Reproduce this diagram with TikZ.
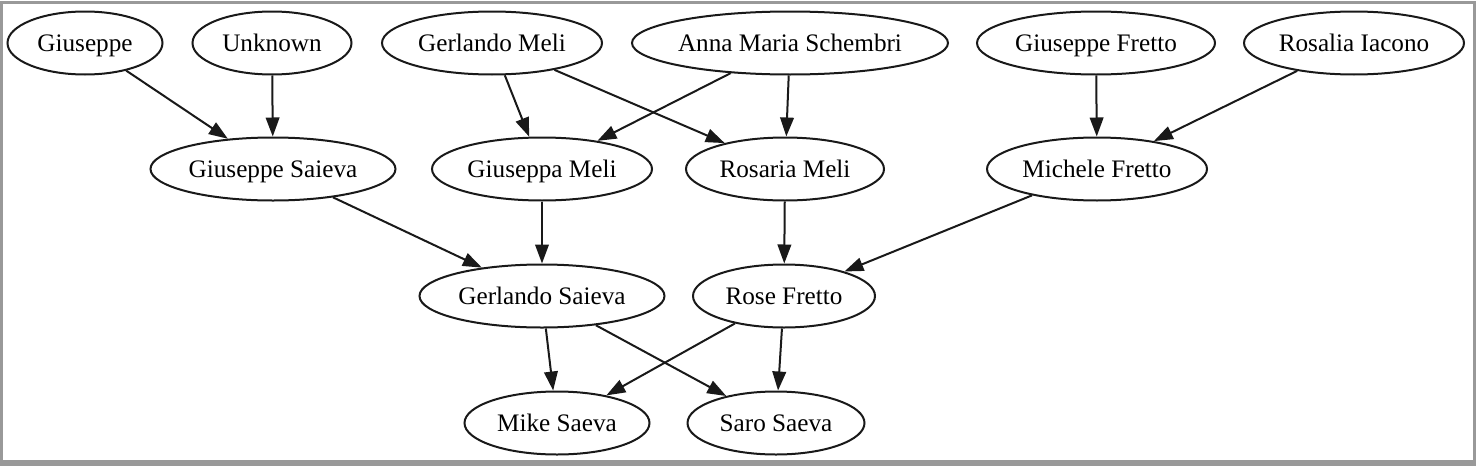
\documentclass[tikz,border=0pt]{standalone}
\usepackage{fontspec}
\setmainfont{Liberation Serif}
\usepackage{tikz}
\usetikzlibrary{arrows.meta,shapes.geometric}

\tikzset{
 person/.style={ellipse, draw=black!90, line width=1pt, minimum width=#1, minimum height=31.5pt, inner sep=0pt,
  font=\fontsize{12.6}{14}\selectfont, text height=9.6pt, text depth=1.1pt,
  execute at begin node={\hbox to 0pt\bgroup\hss}, execute at end node={\hss\egroup}},
 edge/.style={line width=1pt, draw=black!90, -{Triangle[length=9.5pt,width=6.8pt]}}
}

\begin{document}
\begin{tikzpicture}[x=0.5pt,y=-0.5pt]
 \useasboundingbox (0,0) rectangle (1476,466);
 \draw [gray!80, line width=1.5pt] (1.5,2) rectangle (1474.5,462); % frame
 \fill [gray!80] (0,460) rectangle (1476,466);

 % first row
 \node [person=77.5pt] (giuseppe) at (85,43) {Giuseppe};
 \node [person=79.5pt] (unknown) at (272,43) {Unknown};
 \node [person=110pt] (gerlandoM) at (492,43) {Gerlando Meli};
 \node [person=158pt] (anna) at (790,43) {Anna Maria Schembri};
 \node [person=119pt] (giuseppeF) at (1096,43) {Giuseppe Fretto};
 \node [person=110pt] (rosalia) at (1354,43) {Rosalia Iacono};

 % second row
 \node [person=122.5pt] (giuseppeS) at (273,169) {Giuseppe Saieva};
 \node [person=110pt] (giuseppa) at (542,169) {Giuseppa Meli};
 \node [person=99pt] (rosaria) at (785,169) {Rosaria Meli};
 \node [person=110pt] (michele) at (1097,169) {Michele Fretto};

 % third row
 \node [person=122.5pt] (gerlandoS) at (542,296) {Gerlando Saieva};
 \node [person=91pt] (rose) at (784,296) {Rose Fretto};

 % fourth row
 \node [person=92.5pt] (mike) at (557,423) {Mike Saeva};
 \node [person=88.5pt] (saro) at (776,423) {Saro Saeva};

 \draw [edge] (giuseppe) -- (giuseppeS);
 \draw [edge] (unknown) -- (giuseppeS);
 \draw [edge] (gerlandoM) -- (giuseppa);
 \draw [edge] (gerlandoM) -- (rosaria);
 \draw [edge] (anna) -- (giuseppa);
 \draw [edge] (anna) -- (rosaria);
 \draw [edge] (giuseppeF) -- (michele);
 \draw [edge] (rosalia) -- (michele);
 \draw [edge] (giuseppeS) -- (gerlandoS);
 \draw [edge] (giuseppa) -- (gerlandoS);
 \draw [edge] (rosaria) -- (rose);
 \draw [edge] (michele) -- (rose);
 \draw [edge] (gerlandoS) -- (mike);
 \draw [edge] (gerlandoS) -- (saro);
 \draw [edge] (rose) -- (mike);
 \draw [edge] (rose) -- (saro);
\end{tikzpicture}
\end{document}
